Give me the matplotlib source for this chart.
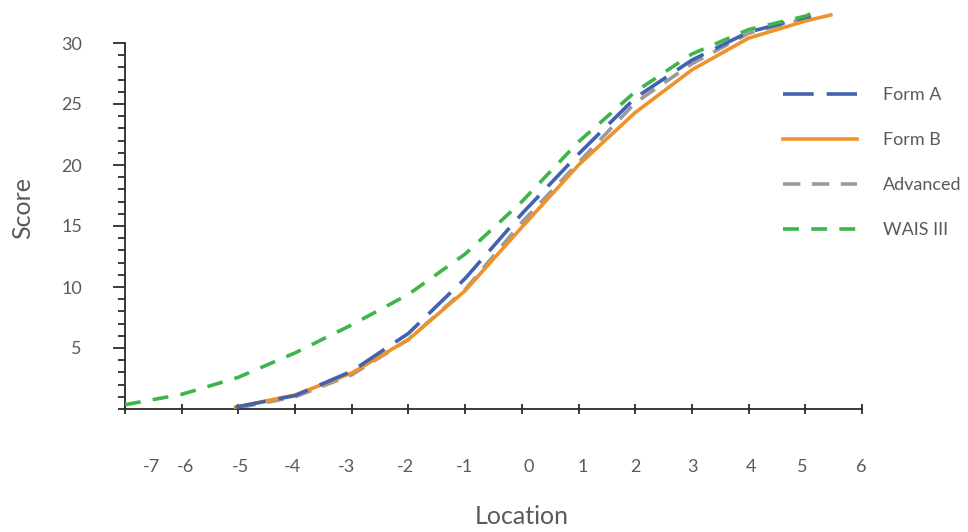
import matplotlib
matplotlib.use("Agg")
import matplotlib.pyplot as plt
from matplotlib.ticker import MultipleLocator, FixedLocator

plt.rcParams['font.family'] = ['Lato', 'DejaVu Sans']

# ---- data ----
formA_x = [-5.05, -4, -3, -2, -1, 0, 1, 2, 3, 4, 5, 5.1]
formA_y = [0.15, 1.1, 3.1, 6.2, 10.7, 16.0, 20.9, 25.5, 28.6, 30.9, 32.1, 32.2]

formB_x = [-5.05, -4, -3, -2, -1, 0, 1, 2, 3, 4, 5, 5.45]
formB_y = [0.15, 1.15, 2.95, 5.7, 9.7, 14.9, 20.0, 24.3, 27.8, 30.4, 31.8, 32.3]

adv_x = [-5.0, -4, -3, -2, -1, 0, 1, 2, 3, 4, 5, 5.1]
adv_y = [0.1, 1.0, 2.8, 5.7, 9.8, 15.3, 20.2, 25.1, 28.3, 30.8, 32.0, 32.2]

wais_x = [-7, -6, -5, -4, -3, -2, -1, 0, 1, 2, 3, 4, 5, 5.1]
wais_y = [0.35, 1.2, 2.6, 4.6, 6.9, 9.4, 12.7, 17.0, 21.9, 26.0, 29.1, 31.1, 32.2, 32.4]

series_labels = ["Form A", "Form B", "Advanced", "WAIS III"]

x_ticks = [-7, -6, -5, -4, -3, -2, -1, 0, 1, 2, 3, 4, 5, 6]
x_tick_labels = ["-7", "-6", "-5", "-4", "-3", "-2", "-1", "0", "1", "2", "3", "4", "5", "6"]
x_label_pos = [-6.53, -5.93, -4.97, -4.04, -3.09, -2.05, -1.02, 0.12, 1.07, 2.01, 3.01, 4.04, 4.95, 5.98]
y_ticks = [5, 10, 15, 20, 25, 30]

# ---- style ----
c_blue = "#4262ae"
c_orange = "#f0922b"
c_gray = "#9a9a9a"
c_green = "#3db54a"
txt = "#5a5a5a"
spine_c = "#2b2b2b"

fig = plt.figure(figsize=(9.68, 5.32), dpi=100)
ax = fig.add_axes([125/968, 1 - 409/532, (862-125)/968, (409-43)/532])

lw = 2.6
l1, = ax.plot(formA_x, formA_y, color=c_blue, lw=lw, dashes=(8.5, 3.6), clip_on=False,
              label=series_labels[0], zorder=4)
l2, = ax.plot(formB_x, formB_y, color=c_orange, lw=lw, clip_on=False,
              label=series_labels[1], zorder=3)
l3, = ax.plot(adv_x, adv_y, color=c_gray, lw=lw, dashes=(4.8, 3.2), clip_on=False,
              label=series_labels[2], zorder=2)
l4, = ax.plot(wais_x, wais_y, color=c_green, lw=lw, dashes=(4.4, 3.4), clip_on=False,
              label=series_labels[3], zorder=5)

ax.set_xlim(-7, 6)
ax.set_ylim(0, 30)

for s in ["top", "right"]:
    ax.spines[s].set_visible(False)
for s in ["left", "bottom"]:
    ax.spines[s].set_color(spine_c)
    ax.spines[s].set_linewidth(1.3)

# y ticks
ax.yaxis.set_major_locator(FixedLocator(y_ticks))
ax.yaxis.set_minor_locator(MultipleLocator(1))
ax.tick_params(axis='y', which='major', length=9, width=1.3, color=spine_c,
               labelsize=13, labelcolor=txt, pad=22)
ax.tick_params(axis='y', which='minor', length=5, width=1.3, color=spine_c)

# x ticks: marks at integers, labels placed separately
ax.set_xticks(x_ticks)
ax.set_xticklabels([])
ax.tick_params(axis='x', which='major', direction='inout', length=7, width=1.3, color=spine_c)
ax.set_xticks(x_label_pos, x_tick_labels, minor=True)
ax.tick_params(axis='x', which='minor', length=0, labelsize=13, labelcolor=txt, pad=36)

ax.set_xlabel("Location", fontsize=18, color=txt)
ax.xaxis.set_label_coords((522-125)/737, -(505-409)/366)
ax.set_ylabel("Score", fontsize=18, color=txt)
ax.yaxis.set_label_coords(-(125-34)/737, (409-208)/366)

leg = fig.legend(handles=[l1, l2, l3, l4], loc='upper left',
                 bbox_to_anchor=(767/968, 1 - 71/532), frameon=False,
                 fontsize=13, handlelength=4.1, handletextpad=1.4, labelspacing=1.6,
                 labelcolor=txt)

fig.savefig("out.png", dpi=100)
